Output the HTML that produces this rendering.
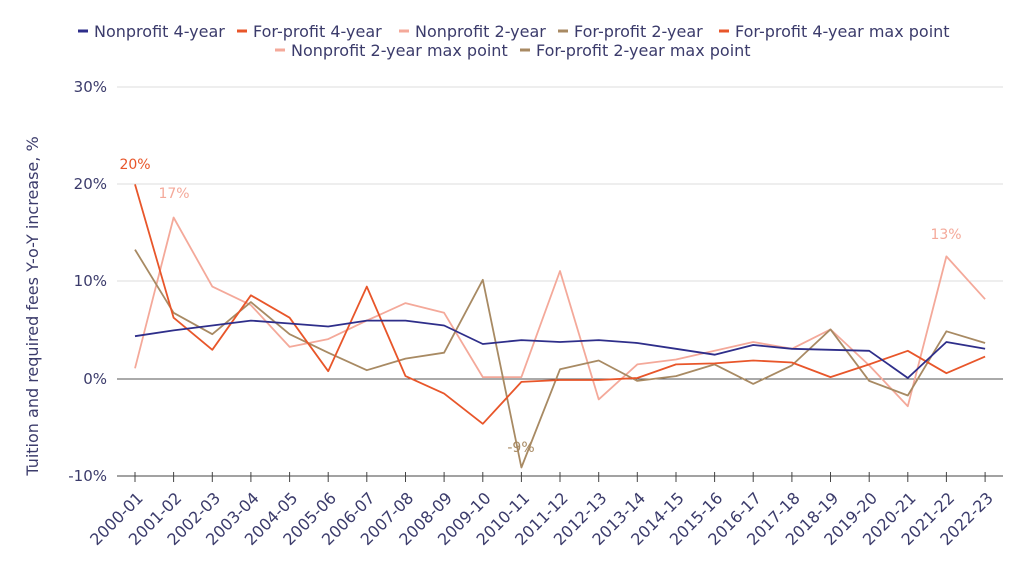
<!DOCTYPE html>
<html><head><meta charset="utf-8"><style>
body{margin:0;background:#fff;}
svg text{font-family:"DejaVu Sans","Liberation Sans",sans-serif;}
</style></head><body>
<svg width="1024" height="567" viewBox="0 0 1024 567" xmlns="http://www.w3.org/2000/svg">
<g font-size="16" fill="#3b3b6b">
<line x1="78" y1="31" x2="88" y2="31" stroke="#2e2e8a" stroke-width="3"/><text x="94" y="37">Nonprofit 4-year</text>
<line x1="237" y1="31" x2="247" y2="31" stroke="#e8562a" stroke-width="3"/><text x="253" y="37">For-profit 4-year</text>
<line x1="399" y1="31" x2="409" y2="31" stroke="#f4a99a" stroke-width="3"/><text x="415" y="37">Nonprofit 2-year</text>
<line x1="558" y1="31" x2="568" y2="31" stroke="#a88a63" stroke-width="3"/><text x="574" y="37">For-profit 2-year</text>
<line x1="719" y1="31" x2="729" y2="31" stroke="#e8562a" stroke-width="3"/><text x="735" y="37">For-profit 4-year max point</text>
<line x1="275" y1="50" x2="285" y2="50" stroke="#f4a99a" stroke-width="3"/><text x="291" y="56">Nonprofit 2-year max point</text>
<line x1="520" y1="50" x2="530" y2="50" stroke="#a88a63" stroke-width="3"/><text x="536" y="56">For-profit 2-year max point</text>
</g>
<g stroke="#ddd" stroke-width="1">
<line x1="117" y1="87" x2="1003" y2="87"/><line x1="117" y1="184" x2="1003" y2="184"/>
<line x1="117" y1="281" x2="1003" y2="281"/>
</g>
<line x1="117" y1="379" x2="1003" y2="379" stroke="#555" stroke-width="1"/>
<line x1="117" y1="476" x2="1003" y2="476" stroke="#444" stroke-width="1"/>
<g font-size="15" fill="#3b3b6b" text-anchor="end">
<text x="107" y="92">30%</text><text x="107" y="189">20%</text><text x="107" y="286">10%</text><text x="107" y="384">0%</text><text x="107" y="481">-10%</text>
</g>
<text transform="translate(38,306) rotate(-90)" font-size="16" fill="#3b3b6b" text-anchor="middle">Tuition and required fees Y-o-Y increase, %</text>
<g stroke="#444">
<line x1="135" y1="472" x2="135" y2="482"/><line x1="173.6" y1="472" x2="173.6" y2="482"/><line x1="212.3" y1="472" x2="212.3" y2="482"/><line x1="250.9" y1="472" x2="250.9" y2="482"/><line x1="289.6" y1="472" x2="289.6" y2="482"/><line x1="328.2" y1="472" x2="328.2" y2="482"/><line x1="366.8" y1="472" x2="366.8" y2="482"/><line x1="405.5" y1="472" x2="405.5" y2="482"/><line x1="444.1" y1="472" x2="444.1" y2="482"/><line x1="482.8" y1="472" x2="482.8" y2="482"/><line x1="521.4" y1="472" x2="521.4" y2="482"/><line x1="560" y1="472" x2="560" y2="482"/><line x1="598.7" y1="472" x2="598.7" y2="482"/><line x1="637.3" y1="472" x2="637.3" y2="482"/><line x1="676" y1="472" x2="676" y2="482"/><line x1="714.6" y1="472" x2="714.6" y2="482"/><line x1="753.2" y1="472" x2="753.2" y2="482"/><line x1="791.9" y1="472" x2="791.9" y2="482"/><line x1="830.5" y1="472" x2="830.5" y2="482"/><line x1="869.2" y1="472" x2="869.2" y2="482"/><line x1="907.8" y1="472" x2="907.8" y2="482"/><line x1="946.4" y1="472" x2="946.4" y2="482"/><line x1="985.1" y1="472" x2="985.1" y2="482"/>
</g>
<g font-size="16" fill="#3b3b6b" text-anchor="end">
<text transform="translate(144,499) rotate(-45)">2000-01</text>
<text transform="translate(182.6,499) rotate(-45)">2001-02</text>
<text transform="translate(221.3,499) rotate(-45)">2002-03</text>
<text transform="translate(259.9,499) rotate(-45)">2003-04</text>
<text transform="translate(298.6,499) rotate(-45)">2004-05</text>
<text transform="translate(337.2,499) rotate(-45)">2005-06</text>
<text transform="translate(375.8,499) rotate(-45)">2006-07</text>
<text transform="translate(414.5,499) rotate(-45)">2007-08</text>
<text transform="translate(453.1,499) rotate(-45)">2008-09</text>
<text transform="translate(491.8,499) rotate(-45)">2009-10</text>
<text transform="translate(530.4,499) rotate(-45)">2010-11</text>
<text transform="translate(569,499) rotate(-45)">2011-12</text>
<text transform="translate(607.7,499) rotate(-45)">2012-13</text>
<text transform="translate(646.3,499) rotate(-45)">2013-14</text>
<text transform="translate(685,499) rotate(-45)">2014-15</text>
<text transform="translate(723.6,499) rotate(-45)">2015-16</text>
<text transform="translate(762.2,499) rotate(-45)">2016-17</text>
<text transform="translate(800.9,499) rotate(-45)">2017-18</text>
<text transform="translate(839.5,499) rotate(-45)">2018-19</text>
<text transform="translate(878.2,499) rotate(-45)">2019-20</text>
<text transform="translate(916.8,499) rotate(-45)">2020-21</text>
<text transform="translate(955.4,499) rotate(-45)">2021-22</text>
<text transform="translate(994.1,499) rotate(-45)">2022-23</text>
</g>
<g fill="none" stroke-width="1.8" stroke-linejoin="round">
<polyline stroke="#f4a99a" points="135,368.3 173.6,217.5 212.3,286.6 250.9,305.1 289.6,346.9 328.2,339.1 366.8,320.6 405.5,303.1 444.1,312.8 482.8,377.1 521.4,377.1 560,271.0 598.7,399.4 637.3,364.4 676,359.5 714.6,350.8 753.2,342.0 791.9,348.8 830.5,329.4 869.2,365.4 907.8,406.2 946.4,256.4 985.1,299.2"/>
<polyline stroke="#a88a63" points="135,249.6 173.6,312.8 212.3,334.2 250.9,302.1 289.6,334.2 328.2,352.7 366.8,370.2 405.5,358.6 444.1,352.7 482.8,279.8 521.4,467.5 560,369.3 598.7,360.5 637.3,380.9 676,376.1 714.6,364.4 753.2,383.9 791.9,365.4 830.5,329.4 869.2,380.9 907.8,395.5 946.4,331.3 985.1,343.0"/>
<polyline stroke="#e8562a" points="135,184.4 173.6,317.7 212.3,349.8 250.9,295.3 289.6,317.7 328.2,371.2 366.8,286.6 405.5,376.1 444.1,393.6 482.8,423.8 521.4,381.9 560,380 598.7,380 637.3,378 676,364.4 714.6,363.4 753.2,360.5 791.9,362.5 830.5,377.1 869.2,364.4 907.8,350.8 946.4,373.2 985.1,356.6"/>
<polyline stroke="#2e2e8a" points="135,336.2 173.6,330.4 212.3,325.5 250.9,320.6 289.6,323.5 328.2,326.5 366.8,320.6 405.5,320.6 444.1,325.5 482.8,344.0 521.4,340.1 560,342.0 598.7,340.1 637.3,343.0 676,348.8 714.6,354.7 753.2,345.0 791.9,348.8 830.5,349.8 869.2,350.8 907.8,378.0 946.4,342.0 985.1,348.8"/>
</g>
<g font-size="14" text-anchor="middle">
<text x="135" y="169" fill="#e8562a">20%</text>
<text x="174" y="198" fill="#f4a99a">17%</text>
<text x="521" y="452" fill="#a88a63">-9%</text>
<text x="946" y="239" fill="#f4a99a">13%</text>
</g>
</svg>
</body></html>
